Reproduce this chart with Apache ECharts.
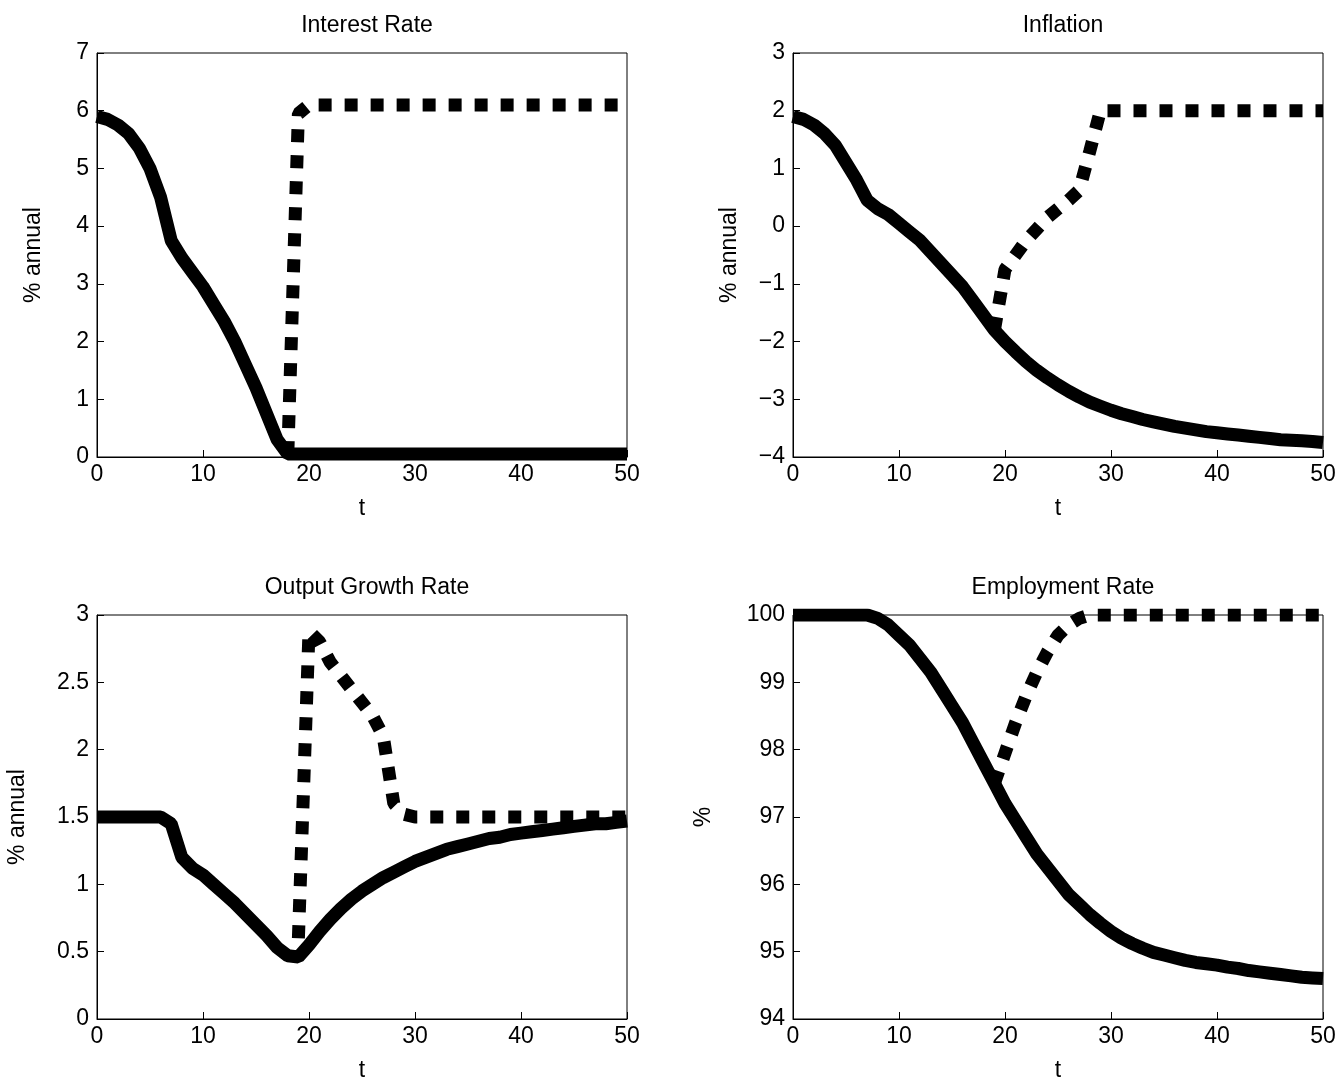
<!DOCTYPE html>
<html><head><meta charset="utf-8">
<script src="https://cdn.jsdelivr.net/npm/echarts@6/dist/echarts.min.js"></script>
<style>body{margin:0;background:#fff}</style>
</head><body>
<div id="main" style="width:1343px;height:1087px;"></div>
<script>
// t = 0..50
var t = [];
for (var i = 0; i <= 50; i++) t.push(i);

var rateSolid = [5.9,5.85,5.75,5.6,5.35,5.0,4.5,3.75,3.45,3.2,2.95,2.65,2.35,2.0,1.6,1.2,0.75,0.3,0.05,
  0.05,0.05,0.05,0.05,0.05,0.05,0.05,0.05,0.05,0.05,0.05,0.05,0.05,0.05,0.05,0.05,0.05,0.05,0.05,0.05,0.05,
  0.05,0.05,0.05,0.05,0.05,0.05,0.05,0.05,0.05,0.05,0.05];
var rateDash = [null,null,null,null,null,null,null,null,null,null,null,null,null,null,null,null,null,null,0.05,
  5.95,6.1,6.1,6.1,6.1,6.1,6.1,6.1,6.1,6.1,6.1,6.1,6.1,6.1,6.1,6.1,6.1,6.1,6.1,6.1,6.1,
  6.1,6.1,6.1,6.1,6.1,6.1,6.1,6.1,6.1,6.1,6.1];

var inflSolid = [1.9,1.85,1.75,1.6,1.4,1.1,0.8,0.45,0.3,0.2,0.05,-0.1,-0.25,-0.45,-0.65,-0.85,-1.05,-1.3,-1.55,
  -1.8,-2.0,-2.18,-2.35,-2.5,-2.63,-2.75,-2.86,-2.96,-3.05,-3.12,-3.19,-3.25,-3.3,-3.35,-3.39,-3.43,-3.47,-3.5,
  -3.53,-3.56,-3.58,-3.6,-3.62,-3.64,-3.66,-3.68,-3.7,-3.71,-3.72,-3.73,-3.75];
var inflDash = [null,null,null,null,null,null,null,null,null,null,null,null,null,null,null,null,null,null,null,
  -1.8,-0.75,-0.5,-0.25,-0.05,0.15,0.3,0.45,0.62,1.3,2.0,2.0,2.0,2.0,2.0,2.0,2.0,2.0,2.0,2.0,2.0,
  2.0,2.0,2.0,2.0,2.0,2.0,2.0,2.0,2.0,2.0,2.0];

var growSolid = [1.5,1.5,1.5,1.5,1.5,1.5,1.5,1.45,1.2,1.12,1.07,1.0,0.93,0.86,0.78,0.7,0.62,0.53,0.47,
  0.46,0.55,0.65,0.74,0.82,0.89,0.95,1.0,1.05,1.09,1.13,1.17,1.2,1.23,1.26,1.28,1.3,1.32,1.34,1.35,1.37,
  1.38,1.39,1.4,1.41,1.42,1.43,1.44,1.45,1.45,1.46,1.47];
var growDash = [null,null,null,null,null,null,null,null,null,null,null,null,null,null,null,null,null,null,null,
  0.6,2.88,2.8,2.65,2.55,2.45,2.35,2.25,2.1,1.6,1.52,1.5,1.5,1.5,1.5,1.5,1.5,1.5,1.5,1.5,1.5,
  1.5,1.5,1.5,1.5,1.5,1.5,1.5,1.5,1.5,1.5,1.5];

var empSolid = [100,100,100,100,100,100,100,100,99.95,99.85,99.7,99.55,99.35,99.15,98.9,98.65,98.4,98.1,97.8,
  97.5,97.2,96.95,96.7,96.45,96.25,96.05,95.85,95.7,95.55,95.42,95.3,95.2,95.12,95.05,94.99,94.95,94.91,94.87,
  94.84,94.82,94.8,94.77,94.75,94.72,94.7,94.68,94.66,94.64,94.62,94.61,94.6];
var empDash = [null,null,null,null,null,null,null,null,null,null,null,null,null,null,null,null,null,null,null,
  97.5,97.95,98.4,98.8,99.15,99.45,99.7,99.85,99.95,100,100,100,100,100,100,100,100,100,100,100,100,
  100,100,100,100,100,100,100,100,100,100,100];

var panels = [
  {title:'Interest Rate', ylabel:'% annual', min:0, max:7, interval:1, solid:rateSolid, dash:rateDash},
  {title:'Inflation', ylabel:'% annual', min:-4, max:3, interval:1, solid:inflSolid, dash:inflDash},
  {title:'Output Growth Rate', ylabel:'% annual', min:0, max:3, interval:0.5, solid:growSolid, dash:growDash},
  {title:'Employment Rate', ylabel:'%', min:94, max:100, interval:1, solid:empSolid, dash:empDash}
];
var boxes = [
  {left:97, top:53}, {left:793, top:53}, {left:97, top:615}, {left:793, top:615}
];
var W = 530, H = 404;
var font = 'Liberation Sans, Arial, sans-serif';

var grid = [], xAxis = [], yAxis = [], series = [], title = [];
panels.forEach(function (p, k) {
  var b = boxes[k];
  grid.push({left:b.left, top:b.top, width:W, height:H, show:true, borderColor:'#000', borderWidth:1, backgroundColor:'#fff'});
  title.push({text:p.title, left:b.left + W/2, top:b.top - 44, textAlign:'center',
    textStyle:{fontFamily:font, fontSize:23, fontWeight:'normal', color:'#000'}});
  xAxis.push({type:'value', gridIndex:k, min:0, max:50, interval:10, name:'t', nameLocation:'middle', nameGap:40,
    nameTextStyle:{fontFamily:font, fontSize:23, color:'#000'},
    axisLine:{onZero:false, lineStyle:{color:'#000'}}, axisTick:{inside:true, length:7, lineStyle:{color:'#000'}},
    axisLabel:{fontFamily:font, fontSize:23, color:'#000', margin:6}, splitLine:{show:false}});
  yAxis.push({type:'value', gridIndex:k, min:p.min, max:p.max, interval:p.interval, name:p.ylabel,
    nameLocation:'middle', nameGap: k === 2 ? 68 : (k === 3 ? 78 : 52),
    nameTextStyle:{fontFamily:font, fontSize:23, color:'#000'},
    axisLine:{onZero:false, lineStyle:{color:'#000'}}, axisTick:{inside:true, length:7, lineStyle:{color:'#000'}},
    axisLabel:{fontFamily:font, fontSize:23, color:'#000', margin:8,
      formatter:function (v) { return String(v).replace('-', '\u2212'); }},
    splitLine:{show:false}});
  series.push({type:'line', xAxisIndex:k, yAxisIndex:k, showSymbol:false, smooth:false,
    data:t.map(function (x, i) { return [x, p.solid[i]]; }),
    lineStyle:{color:'#000', width:13}});
  series.push({type:'line', xAxisIndex:k, yAxisIndex:k, showSymbol:false, smooth:false,
    data:t.map(function (x, i) { return [x, p.dash[i]]; }),
    lineStyle:{color:'#000', width:13, type:[13,13], cap:'butt'}});
});

var chart = echarts.init(document.getElementById('main'));
chart.setOption({animation:false, backgroundColor:'#fff', title:title, grid:grid, xAxis:xAxis, yAxis:yAxis, series:series});
</script>
</body></html>
